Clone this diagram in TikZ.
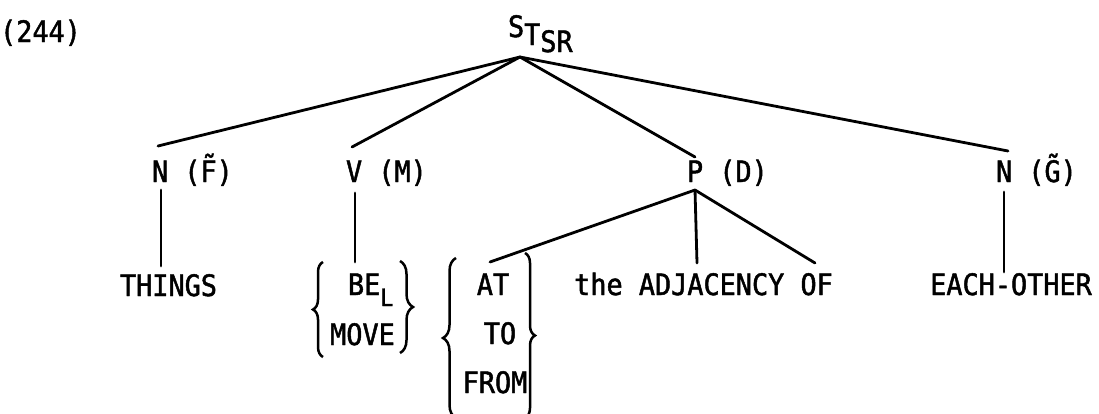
\documentclass[tikz,border=0pt]{standalone}
\usepackage{fontspec}
\usetikzlibrary{decorations.pathreplacing}
\newfontfamily\tw[FakeStretch=0.91,FakeBold=1.6]{DejaVu Sans Mono}
\begin{document}
\begin{tikzpicture}[x=1pt,y=-1pt,
  lbl/.style={font={\tw\fontsize{29.5pt}{30pt}\selectfont}, inner sep=0pt, outer sep=0pt},
  edge/.style={line width=2.8pt, line cap=round},
  brc/.style={line width=2.5pt, decorate, decoration={brace, amplitude=#1}}]
\useasboundingbox (0,0) rectangle (1099,413);
% labels
\node[lbl, anchor=base] (num) at (40.5,42) {(244)};
\node[lbl, anchor=base west] (s) at (508,37) {S\raisebox{-8pt}{T\raisebox{-7pt}{SR}}};
\node[lbl, anchor=base west] (nf) at (152,182) {N (F̃)};
\node[lbl, anchor=base west] (vm) at (346,182) {V (M)};
\node[lbl, anchor=base west] (pd) at (687,182) {P (D)};
\node[lbl, anchor=base west] (ng) at (996,182) {N (G̃)};
\node[lbl, anchor=base] (things) at (168.5,296) {THINGS};
\node[lbl, anchor=base west] (be) at (348,295) {BE\raisebox{-11pt}{\fontsize{24pt}{24pt}\selectfont L}};
\node[lbl, anchor=base] (move) at (362.5,345) {MOVE};
\node[lbl, anchor=base] (at) at (493,295) {AT};
\node[lbl, anchor=base] (to) at (500,344) {TO};
\node[lbl, anchor=base] (from) at (495,393) {FROM};
\node[lbl, anchor=base] (adj) at (703.5,295) {the ADJACENCY OF};
\node[lbl, anchor=base] (eo) at (1011,295) {EACH-OTHER};
% connection points
\coordinate (sroot) at (520,57);
\coordinate (nftop) at (158,146);
\coordinate (vmtop) at (352,147);
\coordinate (pdtop) at (695,157);
\coordinate (ngtop) at (1008,151);
\coordinate (nfbot) at (161,190);
\coordinate (thtop) at (161,266);
\coordinate (vmbot) at (355,193);
\coordinate (betop) at (355,262);
\coordinate (ngbot) at (1004,192);
\coordinate (eotop) at (1004,272);
\coordinate (pdbot) at (695,190);
\coordinate (attop) at (490,262);
\coordinate (adjtop) at (697,263);
\coordinate (oftop) at (815,263);
% connectors
\draw[edge] (sroot) -- (nftop);
\draw[edge] (sroot) -- (vmtop);
\draw[edge] (sroot) -- (pdtop);
\draw[edge] (sroot) -- (ngtop);
\draw[edge] (nfbot) -- (thtop);
\draw[edge] (vmbot) -- (betop);
\draw[edge] (ngbot) -- (eotop);
\draw[edge] (pdbot) -- (attop);
\draw[edge] (pdbot) -- (adjtop);
\draw[edge] (pdbot) -- (oftop);
% braces
\draw[brc=10pt] (323,357) -- (323,262);
\draw[brc=13pt] (400,261) -- (400,353);
\draw[brc=13pt] (456,418) -- (456,258);
\draw[brc=10pt] (525,253) -- (525,418);
\end{tikzpicture}
\end{document}
